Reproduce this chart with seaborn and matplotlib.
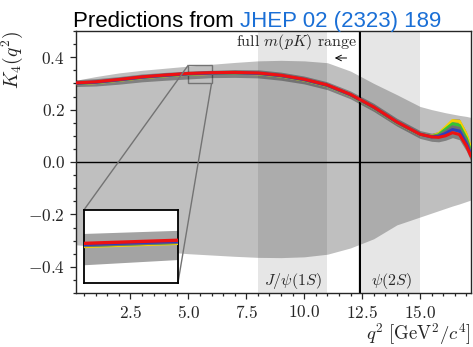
import numpy as np
import pandas as pd
import matplotlib
matplotlib.use("Agg")
import matplotlib.pyplot as plt
import seaborn as sns
from matplotlib.ticker import MultipleLocator
from mpl_toolkits.axes_grid1.inset_locator import mark_inset

# ---------------- data ----------------
q2 = [0.15, 1, 2, 3, 4, 5, 6, 7, 8, 9, 10, 11, 12, 13, 14, 15,
      15.5, 15.8, 16.1, 16.4, 16.7, 17.0, 17.2]

k4_red = [0.302, 0.306, 0.315, 0.325, 0.332, 0.338, 0.341, 0.342, 0.340, 0.331,
          0.316, 0.294, 0.258, 0.210, 0.153, 0.106,
          0.096, 0.094, 0.100, 0.112, 0.105, 0.062, 0.022]
k4_blue = [0.301, 0.305, 0.314, 0.324, 0.331, 0.337, 0.340, 0.341, 0.339, 0.330,
           0.315, 0.293, 0.257, 0.209, 0.152, 0.106,
           0.096, 0.098, 0.109, 0.124, 0.118, 0.070, 0.028]
k4_gray = [0.300, 0.304, 0.313, 0.323, 0.330, 0.336, 0.339, 0.340, 0.338, 0.329,
           0.314, 0.292, 0.256, 0.208, 0.152, 0.106,
           0.097, 0.100, 0.116, 0.134, 0.128, 0.080, 0.033]
k4_green = [0.300, 0.304, 0.313, 0.323, 0.330, 0.336, 0.339, 0.340, 0.338, 0.329,
            0.314, 0.292, 0.256, 0.208, 0.151, 0.106,
            0.097, 0.104, 0.125, 0.146, 0.140, 0.090, 0.040]
k4_yellow = [0.299, 0.303, 0.312, 0.322, 0.329, 0.335, 0.338, 0.339, 0.337, 0.328,
             0.313, 0.291, 0.255, 0.207, 0.150, 0.105,
             0.098, 0.108, 0.132, 0.158, 0.155, 0.105, 0.050]

dark_hi = [0.314, 0.318, 0.326, 0.336, 0.342, 0.347, 0.350, 0.353, 0.352, 0.343,
           0.328, 0.306, 0.271, 0.224, 0.167, 0.120,
           0.110, 0.116, 0.140, 0.166, 0.164, 0.116, 0.062]
dark_lo = [0.288, 0.290, 0.297, 0.306, 0.312, 0.317, 0.322, 0.323, 0.321, 0.312,
           0.298, 0.276, 0.241, 0.193, 0.137, 0.090,
           0.079, 0.077, 0.083, 0.093, 0.085, 0.042, 0.002]

band_hi = [0.312, 0.326, 0.340, 0.350, 0.358, 0.366, 0.373, 0.380, 0.386, 0.388,
           0.386, 0.379, 0.347, 0.300, 0.257, 0.212,
           0.200, 0.194, 0.188, 0.183, 0.178, 0.174, 0.170]
band_lo = [-0.316, -0.322, -0.330, -0.337, -0.343, -0.350, -0.355, -0.360, -0.364, -0.365,
           -0.362, -0.352, -0.328, -0.293, -0.240, -0.210,
           -0.195, -0.186, -0.177, -0.168, -0.160, -0.151, -0.145]

series_names = ["yellow", "green", "gray", "blue", "red"]
series_values = [k4_yellow, k4_green, k4_gray, k4_blue, k4_red]
series_colors = ["#f7d000", "#33c433", "#6e6e6e", "#2b3fbf", "#ee1111"]

jpsi_range = (8.0, 11.0)
psi2s_range = (12.5, 15.0)
mpk_limit = 12.4

df = pd.DataFrame({
    "q2": np.concatenate([q2] * len(series_names)),
    "K4": np.concatenate(series_values),
    "series": np.repeat(series_names, len(q2)),
})
palette = dict(zip(series_names, series_colors))

# ---------------- style ----------------
sns.set_style("ticks")
plt.rcParams["font.family"] = "serif"
plt.rcParams["font.serif"] = ["cmr10"]
plt.rcParams["mathtext.fontset"] = "cm"
plt.rcParams["axes.formatter.use_mathtext"] = True
plt.rcParams["axes.unicode_minus"] = True

fig = plt.figure(figsize=(4.73, 3.47), dpi=100)
ax = fig.add_axes([76 / 473, 1 - 293 / 347, 395 / 473, 262 / 347])

ax.axvspan(*jpsi_range, color="0.9", lw=0, zorder=0)
ax.axvspan(*psi2s_range, color="0.9", lw=0, zorder=0)
ax.fill_between(q2, band_lo, band_hi, color="k", alpha=0.25, lw=0, zorder=1)
ax.fill_between(q2, dark_lo, dark_hi, color="k", alpha=0.33, lw=0, zorder=2)
ax.axhline(0.0, color="k", lw=1.0, zorder=2.5)
ax.axvline(mpk_limit, color="k", lw=1.6, zorder=2.5)

sns.lineplot(data=df, x="q2", y="K4", hue="series", palette=palette,
             hue_order=series_names, sort=False, estimator=None,
             lw=2.2, legend=False, ax=ax, zorder=3)

ax.set_xlim(0.15, 17.2)
ax.set_ylim(-0.5, 0.5)
ax.xaxis.set_major_locator(MultipleLocator(2.5))
ax.xaxis.set_minor_locator(MultipleLocator(0.5))
ax.yaxis.set_major_locator(MultipleLocator(0.2))
ax.yaxis.set_minor_locator(MultipleLocator(0.05))
ax.tick_params(which="both", direction="out", labelsize=12.5, width=0.9)
ax.tick_params(which="minor", length=2.5)
ax.tick_params(which="major", length=4.5)
for s in ax.spines.values():
    s.set_linewidth(1.0)

ax.set_xlabel(r"$q^2\ [\mathrm{GeV}^2/c^4]$", fontsize=13.5, loc="right", labelpad=0)
ax.set_ylabel(r"$K_4(q^2)$", fontsize=14, loc="top", labelpad=2)

ax.text(np.mean(jpsi_range), -0.455, r"$J/\psi(1S)$", ha="center", va="center", fontsize=11.5)
ax.text(np.mean(psi2s_range), -0.455, r"$\psi(2S)$", ha="center", va="center", fontsize=11.5)
ax.text(12.28, 0.458, r"full $m(pK)$ range", ha="right", va="center", fontsize=11.5)
ax.annotate("", xy=(11.2, 0.397), xytext=(11.95, 0.397),
            arrowprops=dict(arrowstyle="->", color="k", lw=0.7))

# ---------------- inset ----------------
axins = ax.inset_axes([0.02, 0.038, 0.238, 0.279])
axins.set_facecolor("white")
axins.fill_between(q2, dark_lo, dark_hi, color="k", alpha=0.36, lw=0, zorder=2)
sns.lineplot(data=df, x="q2", y="K4", hue="series", palette=palette,
             hue_order=series_names, sort=False, estimator=None,
             lw=2.4, legend=False, ax=axins, zorder=3)
axins.set_xlim(5.0, 6.0)
axins.set_ylim(0.30, 0.37)
axins.set_xticks([])
axins.set_yticks([])
axins.set_xlabel("")
axins.set_ylabel("")
for s in axins.spines.values():
    s.set_linewidth(1.3)
    s.set_color("k")
mark_inset(ax, axins, loc1=2, loc2=4, fc="none", ec="0.45", lw=1.0)

# ---------------- title ----------------
t1 = fig.text(73 / 473, 1 - 27 / 347, "Predictions from ", fontsize=16,
              family="Liberation Sans", color="k", va="baseline", ha="left")
fig.canvas.draw()
ax.annotate("JHEP 02 (2323) 189", xy=(1, 0), xycoords=t1, va="bottom", ha="left",
            fontsize=16, family="Liberation Sans", color="#1a6fd6",
            annotation_clip=False)

fig.savefig("out.png", dpi=100)
